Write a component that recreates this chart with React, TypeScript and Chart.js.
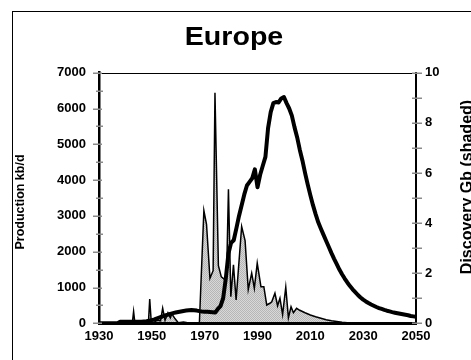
import React, { useEffect, useRef } from "react";
import { Chart, registerables } from "chart.js";

Chart.register(...registerables);

// ---------- data ----------
const FIRST_YEAR = 1930;

// Production kb/d, one value per year 1930..2050
const productionKbd = [
  0, 0, 0, 0, 0, 0, 0, 0,
  40, 40, 40, 40, 40, 40, 40, 40, 45, 50,
  55, 70, 90, 110, 140, 165, 190, 220, 240, 265,
  285, 300, 315, 330, 345, 355, 365, 370, 365, 355,
  340, 330, 325, 320, 315, 310, 300, 400, 480, 700,
  1250, 1950, 2250, 2320, 2650, 3000, 3300, 3600, 3850, 3950,
  4050, 4300, 3800, 4150, 4400, 4650, 5450, 5900, 6150, 6180,
  6170, 6280, 6320, 6150, 6000, 5800, 5480, 5200, 4850, 4550,
  4200, 3880, 3580, 3300, 3050, 2820, 2640, 2470, 2300, 2130,
  1960, 1800, 1650, 1500, 1370, 1250, 1140, 1040, 950, 870,
  790, 720, 660, 610, 565, 525, 490, 455, 425, 400,
  375, 352, 332, 313, 296, 280, 265, 251, 238, 226,
  205, 193, 182,
];

// Discovery Gb (shaded), read point by point
const discoveryYears = [
  1930, 1937.5, 1938, 1938.5, 1942.6, 1943.1, 1943.6, 1948.7, 1949.2, 1949.8,
  1951, 1952, 1953.3, 1954.1, 1955, 1956.1, 1957, 1957.6, 1958.8, 1960,
  1962, 1964, 1968.0, 1969.7, 1970.7, 1972, 1973.2, 1973.9, 1975.2, 1976.3,
  1977.5, 1978.3, 1979, 1979.9, 1980.9, 1981.9, 1984, 1985.3, 1986.5, 1987.8,
  1988.8, 1989.9, 1991.3, 1992.4, 1993.5, 1994.7, 1995.4, 1996.6, 1997.6, 1998.5,
  1999.5, 2000.7, 2001.7, 2002.7, 2003.6, 2004.8, 2006, 2008, 2010, 2012,
  2014, 2016, 2018, 2020, 2022, 2024, 2026.5,
];
const discoveryGb = [
  0, 0, 0.06, 0, 0, 0.47, 0, 0, 0.97, 0.02,
  0.05, 0.12, 0.1, 0.6, 0.12, 0.42, 0.22, 0.38, 0.18, 0.02,
  0.05, 0.01, 0.02, 4.5, 3.95, 1.8, 2.1, 9.2, 2.3, 1.85,
  1.75, 1.9, 5.35, 1.06, 2.33, 0.93, 3.86, 3.3, 1.35, 2.0,
  1.4, 2.4, 1.46, 1.46, 0.73, 0.8, 0.86, 1.2, 0.7, 1.0,
  0.35, 1.44, 0.22, 0.66, 0.42, 0.6, 0.52, 0.42, 0.33, 0.26,
  0.2, 0.14, 0.1, 0.07, 0.04, 0.02, 0,
];

const xTickLabels = [1930, 1950, 1970, 1990, 2010, 2030, 2050];
const leftTickLabels = [0, 1000, 2000, 3000, 4000, 5000, 6000, 7000];
const rightTickLabels = [0, 2, 4, 6, 8, 10];
const leftTickMarks = [0, 500, 1000, 1500, 2000, 2500, 3000, 3500, 4000, 4500, 5000, 5500, 6000, 6500, 7000];
const rightTickMarks = [0, 1, 2, 3, 4, 5, 6, 7, 8, 9, 10];

const TITLE = "Europe";
const LEFT_TITLE = "Production kb/d";
const RIGHT_TITLE = "Discovery Gb (shaded)";

const FONT = "'Liberation Sans', Arial, Helvetica, sans-serif";

function makePattern(): CanvasPattern | string {
  const c = document.createElement("canvas");
  c.width = 2;
  c.height = 2;
  const g = c.getContext("2d");
  if (!g) return "#c8c8c8";
  g.fillStyle = "#d8d8d8";
  g.fillRect(0, 0, 2, 2);
  g.fillStyle = "#b6b6b6";
  g.fillRect(0, 0, 1, 1);
  g.fillRect(1, 1, 1, 1);
  const p = g.createPattern(c, "repeat");
  return p || "#c8c8c8";
}

const decor = {
  id: "decor",
  beforeDraw(chart: any) {
    const { ctx, width, height } = chart;
    ctx.save();
    ctx.fillStyle = "#fff";
    ctx.fillRect(0, 0, width, height);
    ctx.restore();
  },
  afterDraw(chart: any) {
    const { ctx, chartArea, scales } = chart;
    ctx.save();
    // outer frame
    ctx.strokeStyle = "#000";
    ctx.lineWidth = 1;
    ctx.strokeRect(12.5, 11.5, 1000, 1000);
    // top border of plot
    ctx.beginPath();
    ctx.moveTo(chartArea.left, Math.round(chartArea.top) + 0.5);
    ctx.lineTo(chartArea.right, Math.round(chartArea.top) + 0.5);
    ctx.stroke();

    // tick marks
    ctx.strokeStyle = "#8a8a8a";
    ctx.lineWidth = 1.5;
    const ly = scales.y;
    const lx = ly.right;
    leftTickMarks.forEach((v) => {
      const py = Math.round(ly.getPixelForValue(v)) + 0.25;
      const major = v % 1000 === 0;
      ctx.beginPath();
      ctx.moveTo(lx - (major ? 6 : 3), py);
      ctx.lineTo(lx + (major ? 3 : 4), py);
      ctx.stroke();
    });
    const ry = scales.y1;
    const rx = ry.left;
    rightTickMarks.forEach((v) => {
      const py = Math.round(ry.getPixelForValue(v)) + 0.25;
      ctx.beginPath();
      ctx.moveTo(rx - 4, py);
      ctx.lineTo(rx + 6, py);
      ctx.stroke();
    });

    // titles
    ctx.fillStyle = "#000";
    ctx.textAlign = "center";
    ctx.textBaseline = "alphabetic";
    ctx.save();
    ctx.font = `bold 26px ${FONT}`;
    ctx.translate(234, 45);
    ctx.scale(1.1, 1);
    ctx.fillText(TITLE, 0, 0);
    ctx.restore();

    ctx.save();
    ctx.font = `bold 12.5px ${FONT}`;
    ctx.translate(24, 202);
    ctx.rotate(-Math.PI / 2);
    ctx.fillText(LEFT_TITLE, 0, 0);
    ctx.restore();

    ctx.save();
    ctx.font = `bold 16px ${FONT}`;
    ctx.translate(471.5, 187);
    ctx.rotate(-Math.PI / 2);
    ctx.fillText(RIGHT_TITLE, 0, 0);
    ctx.restore();

    ctx.restore();
  },
};

export default function App() {
  const ref = useRef<HTMLCanvasElement | null>(null);

  useEffect(() => {
    if (!ref.current) return;
    const prodData = productionKbd.map((v, i) => ({ x: FIRST_YEAR + i, y: v }));
    const discData = discoveryGb.map((v, i) => ({ x: discoveryYears[i], y: v }));
    const tickFont = { family: FONT, size: 13, weight: "bold" as const };

    const chart = new Chart(ref.current, {
      type: "line",
      data: {
        datasets: [
          {
            label: "Production",
            data: prodData,
            yAxisID: "y",
            borderColor: "#000",
            borderWidth: 4,
            pointRadius: 0,
            fill: false,
            tension: 0,
            borderJoinStyle: "round",
            borderCapStyle: "round",
          },
          {
            label: "Discovery",
            data: discData,
            yAxisID: "y1",
            borderColor: "#000",
            borderWidth: 1.5,
            pointRadius: 0,
            fill: "origin",
            backgroundColor: makePattern() as any,
            tension: 0,
          },
        ],
      },
      options: {
        animation: false,
        responsive: true,
        maintainAspectRatio: false,
        layout: { padding: { top: 72.7, left: 0, right: 0, bottom: 0 } },
        plugins: {
          legend: { display: false },
          tooltip: { enabled: false },
          title: { display: false },
        },
        scales: {
          x: {
            type: "linear",
            min: 1930,
            max: 2050,
            afterBuildTicks: (s: any) => {
              s.ticks = xTickLabels.map((v) => ({ value: v }));
            },
            afterFit: (s: any) => {
              s.height = 36.7;
            },
            grid: { display: false, drawTicks: false },
            border: { display: true, color: "#000", width: 3, z: 1 },
            ticks: {
              font: tickFont,
              color: "#000",
              padding: 5,
              maxRotation: 0,
              autoSkip: false,
              callback: (v: any) => String(v),
            },
          },
          y: {
            type: "linear",
            position: "left",
            min: 0,
            max: 7000,
            afterBuildTicks: (s: any) => {
              s.ticks = leftTickLabels.map((v) => ({ value: v }));
            },
            afterFit: (s: any) => {
              s.width = 99;
            },
            grid: { display: false, drawTicks: false },
            border: { display: true, color: "#000", width: 2.5, z: 1 },
            ticks: {
              font: tickFont,
              color: "#000",
              padding: 13,
              callback: (v: any) => String(v),
            },
          },
          y1: {
            type: "linear",
            position: "right",
            min: 0,
            max: 10,
            afterBuildTicks: (s: any) => {
              s.ticks = rightTickLabels.map((v) => ({ value: v }));
            },
            afterFit: (s: any) => {
              s.width = 55;
            },
            grid: { display: false, drawTicks: false },
            border: { display: true, color: "#000", width: 2, z: 1 },
            ticks: {
              font: tickFont,
              color: "#000",
              padding: 9,
              callback: (v: any) => String(v),
            },
          },
        },
      },
      plugins: [decor],
    });
    return () => chart.destroy();
  }, []);

  return (
    <div
      style={{
        position: "fixed",
        left: 0,
        top: 0,
        width: 471,
        height: 360,
        background: "#fff",
      }}
    >
      <canvas ref={ref} />
    </div>
  );
}
